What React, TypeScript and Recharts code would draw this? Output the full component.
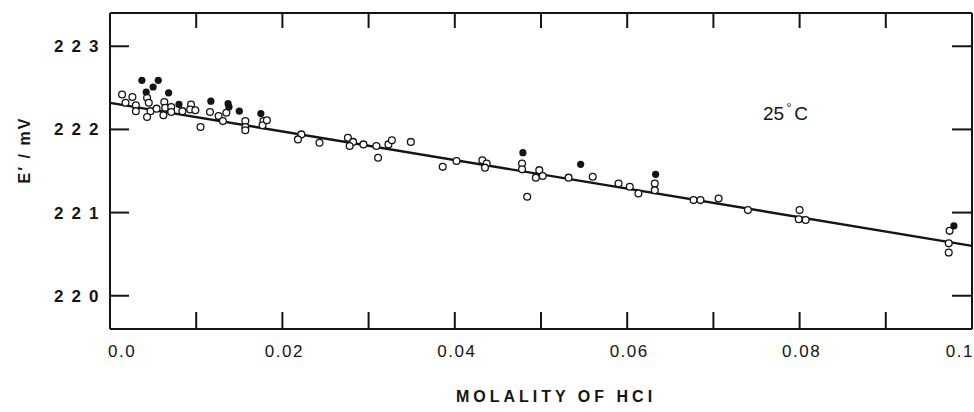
import { ComposedChart, Scatter, XAxis, YAxis } from "recharts";

// molality of HCl (mol/kg) and E' (mV)
const OPEN_M = [
  0.0014, 0.0026, 0.0018, 0.003, 0.003, 0.0043, 0.0045, 0.0047, 0.0043, 0.0054,
  0.0063, 0.0064, 0.0062, 0.0071, 0.0071, 0.0084, 0.0094, 0.0093, 0.0099, 0.0105,
  0.0116, 0.0126, 0.0131, 0.0135, 0.0157, 0.0157, 0.0157, 0.0178, 0.0177, 0.0182,
  0.0222, 0.0218, 0.0243, 0.0276, 0.0282, 0.0278, 0.0294, 0.0309, 0.0311, 0.0323,
  0.0327, 0.0349, 0.0386, 0.0402, 0.0432, 0.0437, 0.0435, 0.0478, 0.0478, 0.0484,
  0.0498, 0.0494, 0.0502, 0.0532, 0.056, 0.059, 0.0603, 0.0613, 0.0632, 0.0632,
  0.0677, 0.0685, 0.0706, 0.074, 0.08, 0.0799, 0.0807, 0.0974, 0.0973, 0.0973,
];
const OPEN_E = [
  222.42, 222.39, 222.32, 222.29, 222.22, 222.38, 222.32, 222.22, 222.15, 222.25,
  222.33, 222.26, 222.17, 222.27, 222.21, 222.22, 222.3, 222.24, 222.23, 222.03,
  222.21, 222.16, 222.1, 222.2, 222.1, 222.03, 221.99, 222.1, 222.05, 222.11,
  221.94, 221.88, 221.84, 221.9, 221.85, 221.8, 221.82, 221.8, 221.66, 221.82,
  221.87, 221.85, 221.55, 221.62, 221.63, 221.59, 221.54, 221.59, 221.52, 221.19,
  221.51, 221.42, 221.44, 221.42, 221.43, 221.35, 221.31, 221.23, 221.35, 221.27,
  221.15, 221.15, 221.17, 221.03, 221.03, 220.92, 220.91, 220.78, 220.63, 220.52,
];

const FILLED_M = [
  0.0037, 0.0056, 0.005, 0.0042, 0.0068, 0.008, 0.0117, 0.0137, 0.0138, 0.015,
  0.0175, 0.0479, 0.0546, 0.0633, 0.0979,
];
const FILLED_E = [
  222.59, 222.59, 222.51, 222.45, 222.44, 222.3, 222.34, 222.31, 222.27, 222.22,
  222.19, 221.72, 221.58, 221.46, 220.84,
];

// fitted straight line
const FIT_M = [0, 0.1];
const FIT_E = [222.32, 220.6];

const X_DOMAIN = [0, 0.1];
const Y_DOMAIN = [219.6, 223.4];
const X_TICKS = [0, 0.01, 0.02, 0.03, 0.04, 0.05, 0.06, 0.07, 0.08, 0.09, 0.1];
const X_LABELS = ["0.0", "", "0.02", "", "0.04", "", "0.06", "", "0.08", "", "0.1"];
const TOP_TICKS = [0.01, 0.02, 0.03, 0.04, 0.05, 0.06, 0.07, 0.08, 0.09];
const Y_TICKS = [220, 221, 222, 223];
const Y_LABELS = ["220", "221", "222", "223"];

const INK = "#141414";
const FONT = "'Liberation Sans', Arial, sans-serif";

// chart box
const W = 974;
const H = 412;
const LEFT = 110;
const RIGHT = 2;
const TOP = 13;
const BOTTOM = 83;
const PLOT_W = W - LEFT - RIGHT;
const PLOT_H = H - TOP - BOTTOM;

const openData = OPEN_M.map((m, i) => ({ m, e: OPEN_E[i] }));
const filledData = FILLED_M.map((m, i) => ({ m, e: FILLED_E[i] }));
const fitData = FIT_M.map((m, i) => ({ m, e: FIT_E[i] }));

// same linear mapping as the chart's axes, used only for the frame's inner ticks
const px = (m: number) => LEFT + ((m - X_DOMAIN[0]) / (X_DOMAIN[1] - X_DOMAIN[0])) * PLOT_W;
const py = (e: number) => TOP + ((Y_DOMAIN[1] - e) / (Y_DOMAIN[1] - Y_DOMAIN[0])) * PLOT_H;

function BottomTick(props: any) {
  const { x, y, index } = props;
  const label = X_LABELS[index];
  const first = index === 0;
  const last = index === X_LABELS.length - 1;
  return (
    <g>
      <line x1={x} x2={x} y1={y} y2={y - 17} stroke={INK} strokeWidth={2} />
      {label ? (
        <text
          x={first ? x - 2 : x + 2}
          y={y + 28}
          textAnchor={first ? "start" : last ? "end" : "middle"}
          fontSize={17}
          letterSpacing={1.5}
          fill={INK}
          fontFamily={FONT}
        >
          {label}
        </text>
      ) : null}
    </g>
  );
}

function LeftTick(props: any) {
  const { x, y, index } = props;
  return (
    <g>
      <line x1={x} x2={x + 19} y1={y} y2={y} stroke={INK} strokeWidth={2} />
      <text
        x={54}
        y={y + 6}
        textAnchor="start"
        fontSize={17}
        fontWeight="bold"
        letterSpacing={8}
        fill={INK}
        fontFamily={FONT}
      >
        {Y_LABELS[index]}
      </text>
    </g>
  );
}

const OpenDot = (p: any) => (
  <circle cx={p.cx} cy={p.cy} r={3.4} fill="#fff" stroke={INK} strokeWidth={1.3} />
);
const FilledDot = (p: any) => <circle cx={p.cx} cy={p.cy} r={3.6} fill={INK} />;
const NoDot = () => <g />;

export default function App() {
  return (
    <div
      style={{
        position: "absolute",
        left: 0,
        top: 0,
        width: W,
        height: H,
        background: "#fff",
        fontFamily: FONT,
      }}
    >
      <ComposedChart width={W} height={H} margin={{ top: 0, right: 0, bottom: 0, left: 0 }}>
        <XAxis
          dataKey="m"
          type="number"
          domain={X_DOMAIN}
          ticks={X_TICKS}
          interval={0}
          height={BOTTOM}
          tickSize={0}
          tickMargin={0}
          tickLine={false}
          axisLine={{ stroke: INK, strokeWidth: 2 }}
          tick={<BottomTick />}
        />
        <XAxis
          xAxisId="top"
          dataKey="m"
          orientation="top"
          type="number"
          domain={X_DOMAIN}
          height={TOP}
          tickLine={false}
          axisLine={{ stroke: INK, strokeWidth: 2 }}
          tick={false}
        />
        <YAxis
          dataKey="e"
          type="number"
          domain={Y_DOMAIN}
          ticks={Y_TICKS}
          interval={0}
          width={LEFT}
          tickSize={0}
          tickMargin={0}
          tickLine={false}
          axisLine={{ stroke: INK, strokeWidth: 2 }}
          tick={<LeftTick />}
        />
        <YAxis
          yAxisId="right"
          dataKey="e"
          orientation="right"
          type="number"
          domain={Y_DOMAIN}
          width={RIGHT}
          tickLine={false}
          axisLine={{ stroke: INK, strokeWidth: 2 }}
          tick={false}
        />
        <Scatter
          data={fitData}
          xAxisId="top"
          yAxisId="right"
          line={{ stroke: INK, strokeWidth: 2.4 }}
          shape={NoDot}
          isAnimationActive={false}
        />
        <Scatter data={openData} shape={OpenDot} isAnimationActive={false} />
        <Scatter data={filledData} shape={FilledDot} isAnimationActive={false} />
      </ComposedChart>

      {/* inward ticks on the top and right frame */}
      <svg
        width={W}
        height={H}
        style={{ position: "absolute", left: 0, top: 0, pointerEvents: "none" }}
      >
        {TOP_TICKS.map((t) => (
          <line
            key={`t${t}`}
            x1={px(t)}
            x2={px(t)}
            y1={TOP}
            y2={TOP + 15}
            stroke={INK}
            strokeWidth={2}
          />
        ))}
        {Y_TICKS.map((v) => (
          <line
            key={`r${v}`}
            x1={W - RIGHT - 20}
            x2={W - RIGHT}
            y1={py(v)}
            y2={py(v)}
            stroke={INK}
            strokeWidth={2}
          />
        ))}
      </svg>

      <div
        style={{
          position: "absolute",
          left: 763,
          top: 103,
          fontSize: 19,
          color: INK,
          whiteSpace: "nowrap",
        }}
      >
        25
        <span style={{ fontSize: 13, position: "relative", top: -8, margin: "0 3px 0 2px" }}>°</span>C
      </div>

      <div
        style={{
          position: "absolute",
          left: 25,
          top: 150,
          transform: "translate(-50%, -50%) rotate(-90deg)",
          fontSize: 16,
          fontWeight: "bold",
          color: INK,
          whiteSpace: "nowrap",
          letterSpacing: 2,
        }}
      >
        E′ / mV
      </div>

      <div
        style={{
          position: "absolute",
          left: 556,
          top: 397,
          transform: "translate(-50%, -50%)",
          fontSize: 16,
          fontWeight: "bold",
          color: INK,
          whiteSpace: "nowrap",
          letterSpacing: 4,
        }}
      >
        MOLALITY OF HCI
      </div>
    </div>
  );
}
